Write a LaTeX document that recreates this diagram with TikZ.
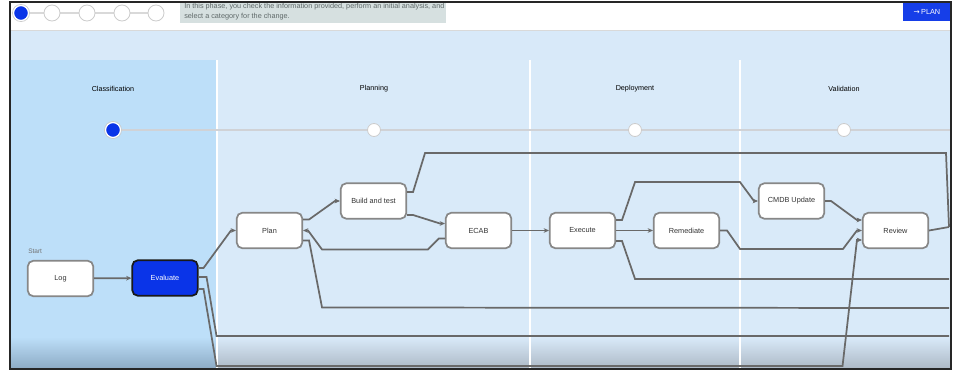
\documentclass[tikz,border=0pt]{standalone}
\usepackage{fontspec}
\setmainfont{Liberation Sans}
\newfontfamily\symfont{DejaVu Sans}
\usetikzlibrary{arrows.meta,calc}
\definecolor{lanedark}{RGB}{189,223,249}
\definecolor{lanelight}{RGB}{217,234,249}
\definecolor{bandblue}{RGB}{216,233,249}
\definecolor{boxgray}{RGB}{135,135,135}
\definecolor{linegray}{RGB}{105,105,105}
\definecolor{evalblue}{RGB}{10,52,232}
\definecolor{tipgray}{RGB}{214,224,224}
\definecolor{tiptext}{RGB}{95,105,105}
\definecolor{trackgray}{RGB}{208,210,214}
\definecolor{btnblue}{RGB}{22,62,232}
\definecolor{shadedark}{RGB}{140,170,196}
\definecolor{shadelight}{RGB}{172,184,197}
\begin{document}
\begin{tikzpicture}[x=0.75pt,y=-0.75pt,
  box/.style={draw=boxgray, line width=1.3pt, fill=white, rounded corners=4pt,
    minimum width=49pt, minimum height=26.5pt, inner sep=0pt,
    font=\fontsize{5.5}{6}\selectfont, text=black!80},
  flow/.style={draw=linegray, line width=1.3pt, -{Stealth[length=4pt,width=3.5pt]}},
  link/.style={draw=linegray, line width=1.3pt},
  lanetitle/.style={font=\fontsize{5.4}{6}\selectfont, text=black},
  tiptxt/.style={font=\fontsize{5.45}{7}\selectfont, text=tiptext, anchor=west, inner sep=0pt},
  dot/.style={fill=white, draw=black!20, line width=0.6pt},
]
\useasboundingbox (0,0) rectangle (957,371);
\fill[white] (0,0) rectangle (957,371);
% band and lanes
\fill[bandblue] (10,30) rectangle (951,60);
\draw[black!15, line width=0.6pt] (10,30) -- (951,30);
\fill[lanedark] (10,60) rectangle (217,369);
\fill[lanelight] (217,60) rectangle (951,369);
\shade[top color=lanedark, bottom color=shadedark] (10,337) rectangle (217,369);
\shade[top color=lanelight, bottom color=shadelight] (217,337) rectangle (951,369);
\foreach \xx in {217,530,740} \draw[white, line width=0.8pt] (\xx,60) -- (\xx,369);
% top bar progress
\draw[black!15, line width=0.8pt] (21,13) -- (156,13);
\foreach \xx in {52,87,122,156} \filldraw[dot] (\xx,13) circle[radius=8];
\filldraw[fill=evalblue, draw=white, line width=1pt] (21,13) circle[radius=7.5];
\draw[black!20, line width=0.5pt] (21,13) circle[radius=8.6];
% tooltip
\fill[tipgray] (180,2) rectangle (446,23);
\node[tiptxt] (tip1) at (184,7) {In this phase, you check the information provided, perform an initial analysis, and};
\node[tiptxt] (tip2) at (184,16.5) {select a category for the change.};
% plan button
\fill[btnblue] (903,3) rectangle (951,21);
\node[font=\fontsize{5.5}{6}\selectfont, text=white, inner sep=0pt] (btn) at (927,12) {{\symfont →}\,PLAN};
% lane titles
\node[lanetitle] (t1) at (113,89) {Classification};
\node[lanetitle] (t2) at (374,89) {Planning};
\node[lanetitle] (t3) at (635,89) {Deployment};
\node[lanetitle] (t4) at (844,89) {Validation};
% track
\draw[trackgray, line width=2pt] (113,130) -- (951,130);
\foreach \xx in {374,635,844} \filldraw[dot] (\xx,130) circle[radius=6.5];
\filldraw[fill=evalblue, draw=white, line width=1pt] (113,130) circle[radius=7.5];
\draw[black!20, line width=0.5pt] (113,130) circle[radius=8.6];
% nodes
\node[font=\fontsize{4.9}{5}\selectfont, text=black!55, anchor=west, inner sep=0pt] (start) at (28,251) {Start};
\node[box] (log) at (60.5,278.5) {Log};
\node[box, fill=evalblue, draw=black!90, text=white] (eval) at (165,278) {Evaluate};
\node[box] (plan) at (269.5,230.5) {Plan};
\node[box] (build) at (373.5,201) {Build and test};
\node[box] (ecab) at (478.5,230.5) {ECAB};
\node[box] (exec) at (582.5,230.5) {Execute};
\node[box] (remed) at (686.5,230.5) {Remediate};
\node[box] (cmdb) at (791.5,201) {CMDB Update};
\node[box] (review) at (895.5,230.5) {Review};
% free ends at the right edge
\coordinate (r0) at (946,153);
\coordinate (r0b) at (949,227);
\coordinate (r1) at (949,279);
\coordinate (r2) at (949,308);
\coordinate (r3) at (949,336);
% connectors
\draw[flow] (log) -- (eval);
\draw[flow] ($(eval.east)+(0,-10)$) -- ++(5,0) -- ($(plan.west)+(-5,0)$) -- (plan.west);
\draw[link] ($(eval.east)+(0,-1)$) -- ++(8,0) -- ++(10,59) -- (r3);
\draw[flow] ($(eval.east)+(0,11)$) -- ++(5,0) -- ++(13,77) -- ++(626,0) -- ($(review.west)+(-5,9.5)$) -- ($(review.west)+(0,9.5)$);
\draw[flow] ($(plan.east)+(0,-11)$) -- ++(6,0) -- ($(build.west)+(-5,0)$) -- (build.west);
\draw[link] ($(plan.east)+(0,10)$) -- ++(6,0) -- ++(13,67) -- (r2);
\draw[flow] ($(build.east)+(0,14)$) -- ++(6,0) -- ($(ecab.west)+(-5,-7)$) -- ($(ecab.west)+(0,-7)$);
\draw[link] ($(build.east)+(0,-9)$) -- ++(6,0) -- ++(12,-39) -- (r0) -- (r0b);
\draw[flow] ($(ecab.west)+(0,8)$) -- ++(-6,0) -- ++(-11,11) -- ($(plan.east)+(19,19)$) -- ($(plan.east)+(5,0)$) -- (plan.east);
\draw[flow] (ecab) -- (exec);
\draw[flow] (exec) -- (remed);
\draw[flow] ($(exec.east)+(0,-10.5)$) -- ++(6,0) -- ++(13,-38) -- ($(cmdb.west)+(-18,-19)$) -- ($(cmdb.west)+(-4,0)$) -- (cmdb.west);
\draw[link] ($(exec.east)+(0,10.5)$) -- ++(6,0) -- ++(13,38) -- (r1);
\draw[flow] (remed.east) -- ++(7,0) -- ++(13,18.5) -- ($(review.west)+(-19,18.5)$) -- ($(review.west)+(-5,0)$) -- (review.west);
\draw[flow] (cmdb.east) -- ++(6,0) -- ($(review.west)+(-5,-10.5)$) -- ($(review.west)+(0,-10.5)$);
\draw[link] (review.east) -- (r0b);
% frame
\draw[black!85, line width=1.2pt] (10,2) rectangle (951,369);
\end{tikzpicture}
\end{document}
